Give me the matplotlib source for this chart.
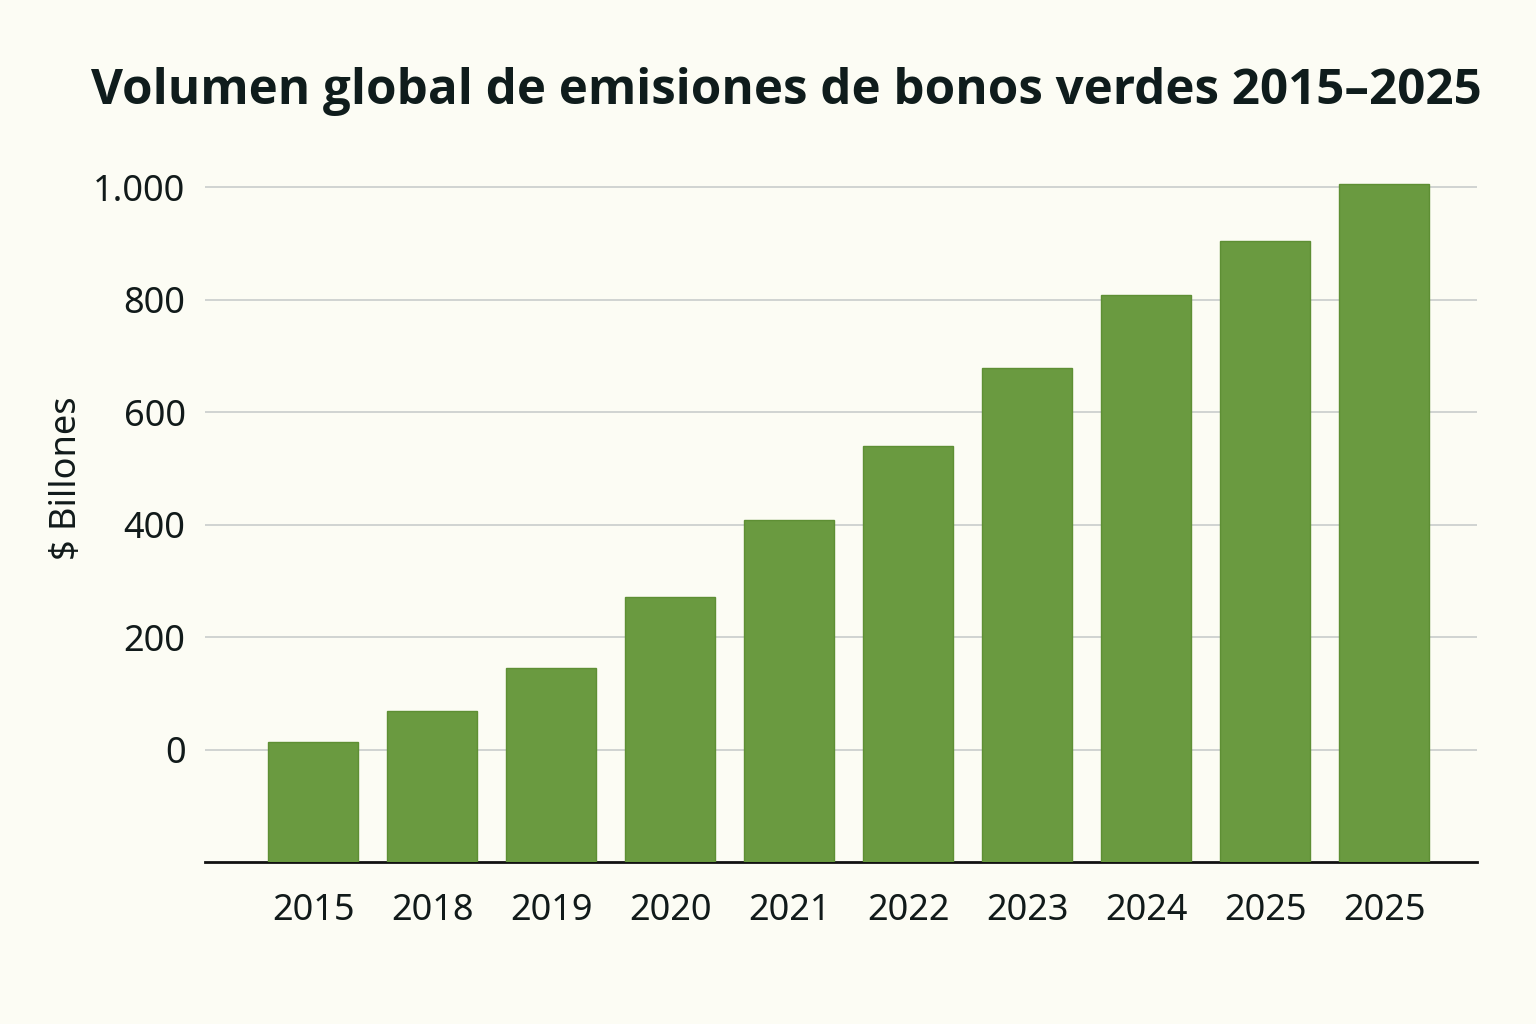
import matplotlib.pyplot as plt
from matplotlib.ticker import FuncFormatter

# data
years = ['2015', '2018', '2019', '2020', '2021', '2022', '2023', '2024', '2025', '2025']
volumes = [14, 68, 145, 271, 408, 540, 679, 809, 905, 1006]
y_ticks = [0, 200, 400, 600, 800, 1000]

bg = '#fcfcf4'
green = '#6a9a40'

plt.rcParams['font.family'] = ['Noto Sans', 'DejaVu Sans']

fig = plt.figure(figsize=(15.36, 10.24), dpi=100, facecolor=bg)
ax = fig.add_axes([205 / 1536, 1 - 862 / 1024, 1272 / 1536, (862 - 176) / 1024])
ax.set_facecolor(bg)

base = -200
x = list(range(len(years)))
ax.bar(x, [v - base for v in volumes], bottom=base, width=0.76,
       color=green, edgecolor='#5e8f34', linewidth=1, zorder=3)

ax.set_ylim(base, 1020)
ax.set_xlim(-0.91, 9.78)
ax.set_yticks(y_ticks)
ax.yaxis.set_major_formatter(FuncFormatter(lambda v, p: f'{int(v):,}'.replace(',', '.')))
ax.grid(axis='y', color='#c9cccc', linewidth=1.2, zorder=0)

ax.set_xticks(x)
ax.set_xticklabels(years)
ax.tick_params(axis='both', length=0, labelsize=26, colors='#111a1a')
ax.tick_params(axis='x', pad=22)
ax.tick_params(axis='y', pad=14)

for side in ['top', 'right', 'left']:
    ax.spines[side].set_visible(False)
ax.spines['bottom'].set_color('#111111')
ax.spines['bottom'].set_linewidth(2)

ax.set_ylabel('$ Billones', fontsize=26, color='#111a1a')
ax.yaxis.set_label_coords(-0.094, 0.56)

fig.text(786 / 1536, 1 - 92 / 1024, 'Volumen global de emisiones de bonos verdes 2015–2025',
         ha='center', va='center', fontsize=35.5, fontweight='bold', color='#0f1c1c',
         family=['Open Sans', 'DejaVu Sans'])

fig.savefig('out.png', dpi=100, facecolor=bg)
